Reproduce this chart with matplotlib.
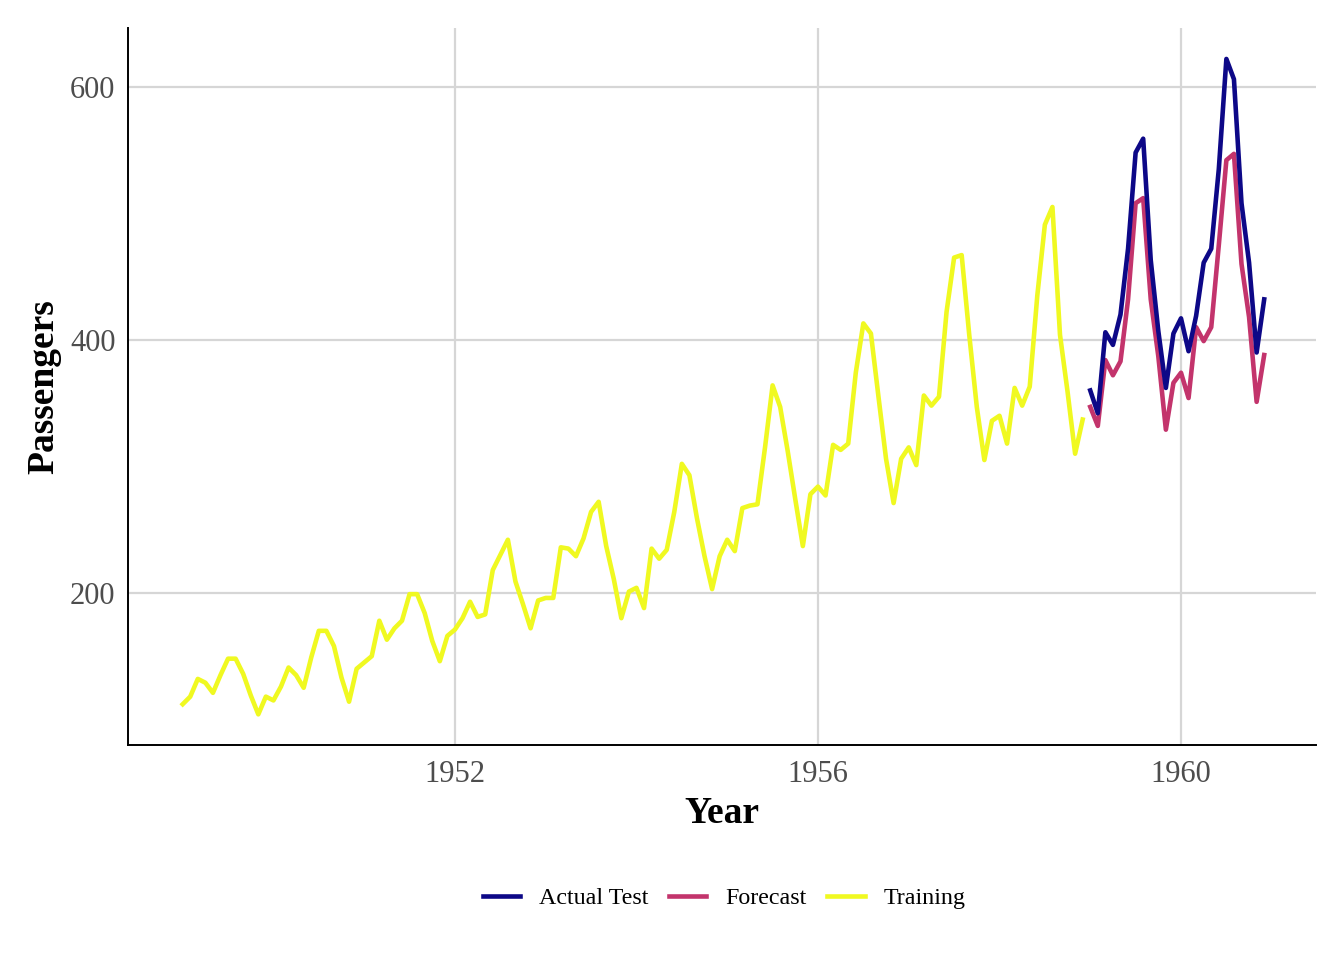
import matplotlib
matplotlib.use('Agg')
import matplotlib.pyplot as plt
import numpy as np

plt.rcParams['font.family'] = ['Liberation Serif', 'DejaVu Serif']

# monthly passengers, 1949-1958 (training)
training = [
    112, 118, 132, 129, 121, 135, 148, 148, 136, 119, 104, 118,
    115, 126, 141, 135, 125, 149, 170, 170, 158, 133, 114, 140,
    145, 150, 178, 163, 172, 178, 199, 199, 184, 162, 146, 166,
    171, 180, 193, 181, 183, 218, 230, 242, 209, 191, 172, 194,
    196, 196, 236, 235, 229, 243, 264, 272, 237, 211, 180, 201,
    204, 188, 235, 227, 234, 264, 302, 293, 259, 229, 203, 229,
    242, 233, 267, 269, 270, 315, 364, 347, 312, 274, 237, 278,
    284, 277, 317, 313, 318, 374, 413, 405, 355, 306, 271, 306,
    315, 301, 356, 348, 355, 422, 465, 467, 404, 347, 305, 336,
    340, 318, 362, 348, 363, 435, 491, 505, 404, 359, 310, 337,
]
# 1959-1960 (test)
actual_test = [
    360, 342, 406, 396, 420, 472, 548, 559, 463, 407, 362, 405,
    417, 391, 419, 461, 472, 535, 622, 606, 508, 461, 390, 432,
]
forecast = [
    347, 332, 384, 372, 383, 432, 508, 512, 432, 387, 329, 366,
    374, 354, 410, 399, 410, 475, 542, 547, 460, 418, 351, 388,
]
train_start = 1949
test_start = 1959

COL_TEST = '#0D0887'
COL_FC = '#C3346C'
COL_TRAIN = '#F0F921'


def main():
    t_train = train_start + np.arange(len(training)) / 12
    t_test = test_start + np.arange(len(actual_test)) / 12

    fig = plt.figure(figsize=(13.44, 9.6), dpi=100)
    ax = fig.add_axes([0.0952, 0.224, 0.884, 0.747])

    lw = 3.3
    ax.plot(t_test, actual_test, color=COL_TEST, lw=lw, label='Actual Test', zorder=3)
    ax.plot(t_test, forecast, color=COL_FC, lw=lw, label='Forecast', zorder=2)
    ax.plot(t_train, training, color=COL_TRAIN, lw=lw, label='Training', zorder=1)

    ax.set_xlim(1948.397, 1961.488)
    ax.set_ylim(79.8, 646.6)
    ax.set_xticks([1952, 1956, 1960])
    ax.set_yticks([200, 400, 600])
    ax.grid(True, color='#d6d6d6', lw=1.6)
    ax.set_axisbelow(True)
    for s in ['top', 'right']:
        ax.spines[s].set_visible(False)
    for s in ['left', 'bottom']:
        ax.spines[s].set_linewidth(1.4)
        ax.spines[s].set_color('black')
    ax.tick_params(length=0, labelsize=22, labelcolor='#4d4d4d')
    ax.tick_params(axis='x', pad=11)
    ax.tick_params(axis='y', pad=9)

    ax.set_xlabel('Year', fontsize=27, fontweight='bold', labelpad=5)
    ax.set_ylabel('Passengers', fontsize=27, fontweight='bold', labelpad=6)

    fig.legend(loc='center', bbox_to_anchor=(0.539, 0.064), ncol=3,
               frameon=False, fontsize=17.3, handlelength=1.55,
               handletextpad=0.8, columnspacing=0.85)

    fig.savefig('out.png', dpi=100, facecolor='white')


if __name__ == '__main__':
    main()
